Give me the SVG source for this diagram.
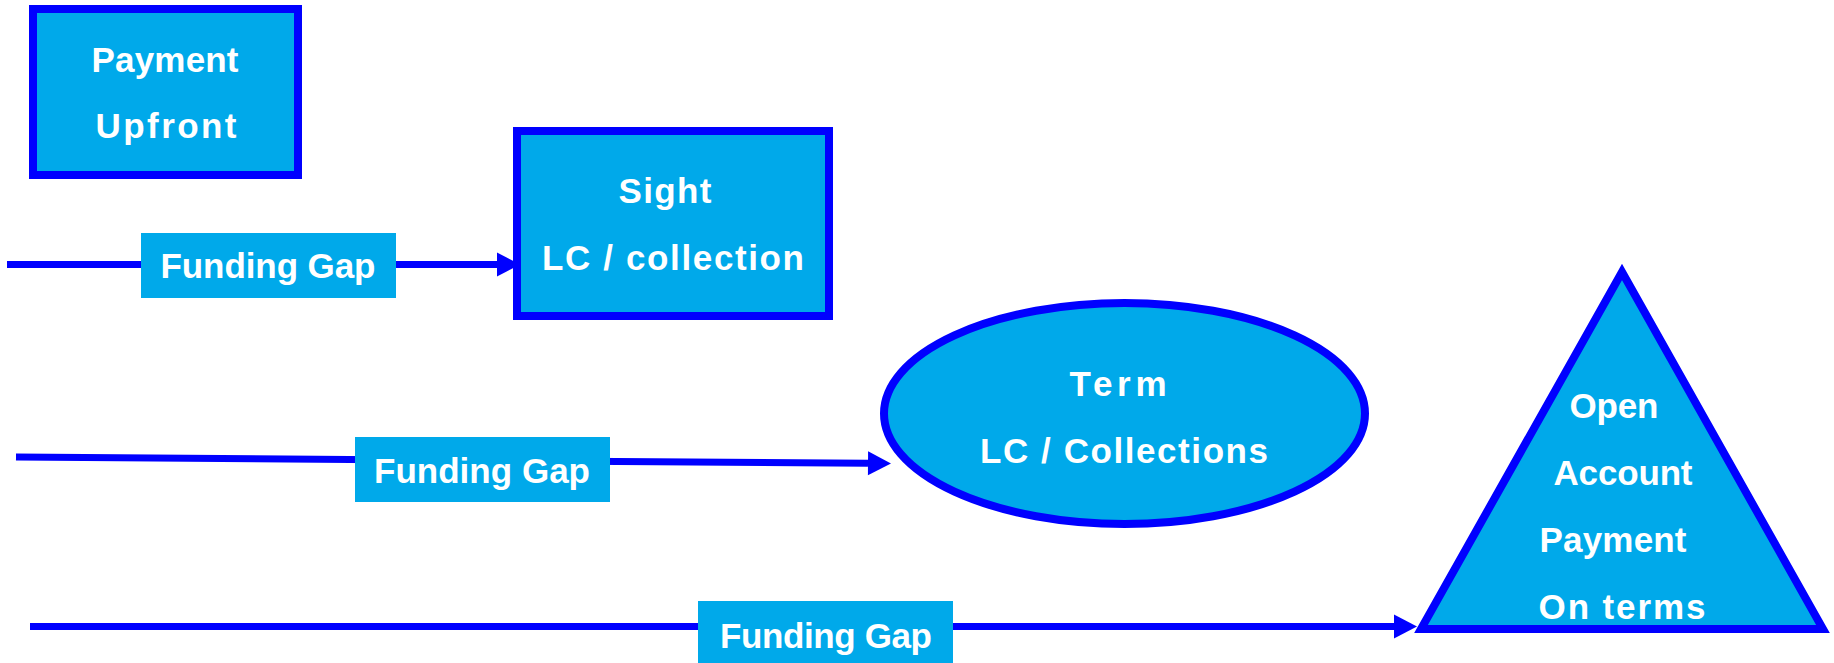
<svg xmlns="http://www.w3.org/2000/svg" width="1834" height="663" viewBox="0 0 1834 663">
  <style>
    .shape { fill: #00A9EA; stroke: #0000FF; stroke-width: 8; stroke-linejoin: miter; }
    .label-bg { fill: #00A9EA; stroke: none; }
    .txt { font-family: "Liberation Sans", Arial, sans-serif; font-weight: bold; font-size: 35px; fill: #FFFFFF; text-anchor: middle; }
    .flow { fill: none; stroke: #0000FF; stroke-width: 7; marker-end: url(#head); }
  </style>
  <defs>
    <marker id="head" markerUnits="userSpaceOnUse" markerWidth="24" markerHeight="26" refX="0" refY="12" orient="auto" overflow="visible">
      <path d="M0,0 L23,12 L0,24 Z" fill="#0000FF"/>
    </marker>
  </defs>

  <rect width="1834" height="663" fill="#FFFFFF"/>

  <!-- payment stages -->
  <g id="payment-upfront">
    <rect class="shape" x="33" y="9" width="265" height="166"/>
    <text class="txt" x="165" y="72" textLength="147" lengthAdjust="spacing">Payment</text>
    <text class="txt" x="166" y="138" textLength="141" lengthAdjust="spacing">Upfront</text>
  </g>

  <g id="sight-lc">
    <rect class="shape" x="517" y="131" width="312" height="185"/>
    <text class="txt" x="665" y="203" textLength="93" lengthAdjust="spacing">Sight</text>
    <text class="txt" x="673" y="270" textLength="262" lengthAdjust="spacing">LC / collection</text>
  </g>

  <g id="term-lc">
    <ellipse class="shape" cx="1124.5" cy="413.5" rx="240.5" ry="110.5"/>
    <text class="txt" x="1118" y="396" textLength="97" lengthAdjust="spacing">Term</text>
    <text class="txt" x="1124" y="463" textLength="288" lengthAdjust="spacing">LC / Collections</text>
  </g>

  <g id="open-account">
    <polygon class="shape" points="1622,272 1421,629 1823,629"/>
    <text class="txt" x="1614" y="418" textLength="89" lengthAdjust="spacing">Open</text>
    <text class="txt" x="1623" y="485" textLength="139" lengthAdjust="spacing">Account</text>
    <text class="txt" x="1613" y="552" textLength="147" lengthAdjust="spacing">Payment</text>
    <text class="txt" x="1622" y="619" textLength="167" lengthAdjust="spacing">On terms</text>
  </g>

  <!-- funding gap arrows -->
  <g id="connectors">
    <path class="flow" d="M7,264.5 L497,264.5"/>
    <path class="flow" d="M16,457 L868,463.3"/>
    <path class="flow" d="M30,626.5 L1394,626.5"/>
  </g>

  <g id="connector-labels">
    <g id="gap-sight">
      <rect class="label-bg" x="141" y="233" width="255" height="65"/>
      <text class="txt" x="268" y="278" textLength="215" lengthAdjust="spacing">Funding Gap</text>
    </g>
    <g id="gap-term">
      <rect class="label-bg" x="355" y="437" width="255" height="65"/>
      <text class="txt" x="482" y="483" textLength="216" lengthAdjust="spacing">Funding Gap</text>
    </g>
    <g id="gap-open">
      <rect class="label-bg" x="698" y="601" width="255" height="62"/>
      <text class="txt" x="826" y="648" textLength="212" lengthAdjust="spacing">Funding Gap</text>
    </g>
  </g>
</svg>
